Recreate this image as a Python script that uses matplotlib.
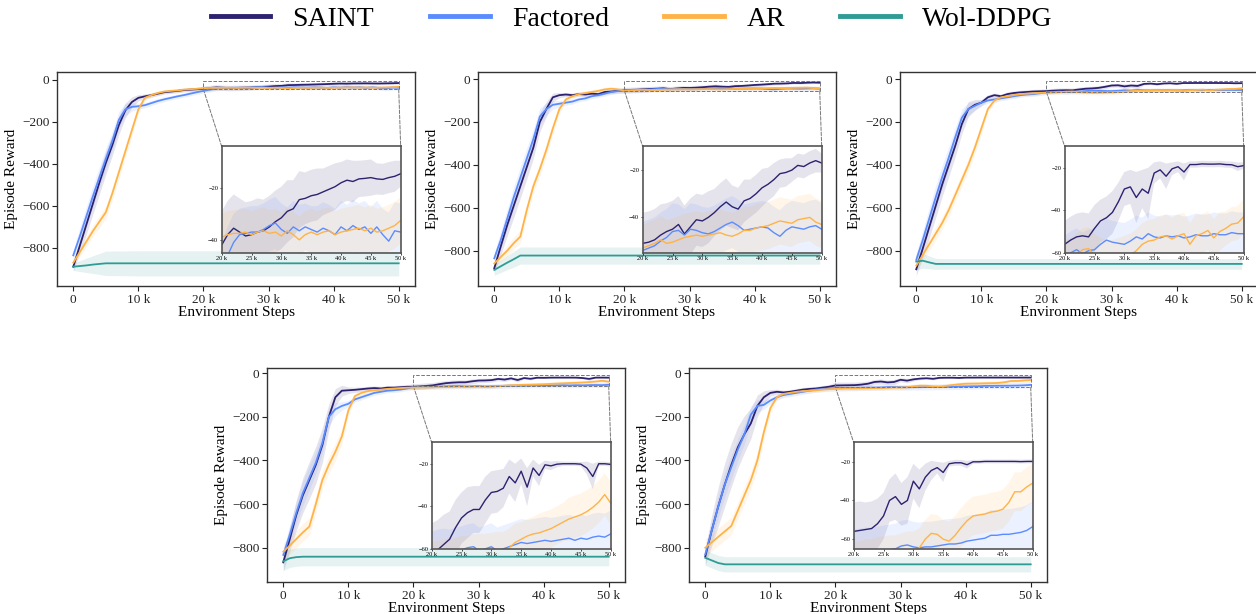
import numpy as np
import matplotlib.pyplot as plt
from matplotlib.lines import Line2D
from matplotlib.patches import Rectangle, ConnectionPatch
from matplotlib.ticker import FuncFormatter

plt.rcParams['font.family'] = ['Liberation Serif', 'DejaVu Serif']
plt.rcParams['axes.unicode_minus'] = True

# x grid (thousands of environment steps)
steps_k = list(range(51))
wol_steps_k = [0, 1, 2, 3, 4, 5, 10, 20, 30, 40, 50]

methods = ['SAINT', 'Factored', 'AR', 'Wol-DDPG']
colors = ['#2d2270', '#5b8cff', '#ffb347', '#2e9c94']

# ---------------- panel 1 ----------------
saint_1 = [-889, -790, -690, -590, -490, -395, -310, -215, -145, -105, -85,
           -78, -72, -65, -58, -55, -52, -48, -46, -44,
           -42, -38, -35.5, -37, -38.5, -38, -37, -36.5, -35, -33, -31.5,
           -29, -28, -24.5, -24, -23, -22.5, -21.5, -20.5, -19.5, -18,
           -17, -17.5, -16.5, -16.3, -16, -16.5, -16.7, -16, -15.5, -14.5]
saint_1_std = [20, 35, 45, 50, 55, 55, 50, 45, 35, 25, 15,
               12, 10, 10, 9, 9, 9, 9, 9, 9,
               13, 13, 13, 13, 13, 13, 13, 12, 12, 12, 12,
               12, 11, 11, 10, 10, 10, 9, 9, 9, 8,
               8, 8, 7, 7, 7, 6, 6, 6, 6, 5]
factored_1 = [-835, -745, -650, -555, -465, -375, -290, -190, -140, -128, -125,
              -120, -110, -100, -92, -85, -78, -72, -65, -58,
              -52, -46, -41, -38, -37.5, -37, -37, -36, -34.5, -33.5, -36,
              -37.5, -35, -36.5, -35, -36, -37, -35.5, -36.5, -38, -35,
              -36.5, -34.5, -36, -35, -37.5, -35, -38, -40.5, -36.5, -37]
factored_1_std = [25, 40, 45, 50, 50, 50, 45, 40, 30, 20, 15,
                  12, 12, 11, 11, 10, 10, 10, 10, 10,
                  11, 11, 11, 10, 10, 10, 10, 10, 10, 10, 10,
                  10, 10, 10, 9, 9, 10, 10, 10, 10, 10,
                  10, 10, 10, 10, 10, 10, 10, 11, 11, 11]
ar_1 = [-870, -820, -770, -720, -675, -630, -540, -440, -340, -240, -140,
        -85, -72, -62, -55, -52, -50, -46, -44, -42,
        -39, -38, -37.5, -37.5, -37, -38, -37, -36.5, -37.5, -37, -38.5,
        -36.5, -38, -40, -38, -37, -38, -37, -36.5, -38, -37,
        -36.5, -36, -35.5, -36.5, -35.5, -37, -36.5, -35.5, -34.5, -32.5]
ar_1_std = [15, 20, 25, 25, 30, 30, 30, 30, 30, 25, 20,
            12, 10, 10, 10, 9, 9, 9, 9, 9,
            9, 9, 9, 9, 9, 9, 9, 9, 9, 9, 9,
            9, 9, 9, 9, 9, 9, 9, 9, 9, 9,
            9, 9, 9, 9, 9, 9, 9, 9, 9, 9]
wol_1 = [-889, -886, -883, -879, -876, -873, -873, -873, -873, -873, -873]
wol_1_std = [18, 26, 34, 42, 50, 58, 60, 60, 60, 60, 60]

# ---------------- panel 2 ----------------
saint_2 = [-882, -780, -680, -590, -500, -410, -320, -200, -140, -85, -75,
           -72, -75, -70, -72, -68, -70, -60, -58, -55,
           -51, -50.5, -49.5, -47.5, -46, -45, -43, -47, -44, -41, -41.5,
           -40, -38, -35.5, -33.5, -35.5, -36.5, -33, -32, -30, -27.5,
           -26, -24, -21.5, -21, -20, -18, -18.5, -17, -16, -17]
saint_2_std = [20, 40, 50, 55, 55, 55, 50, 45, 35, 20, 12,
               10, 10, 10, 10, 10, 10, 10, 10, 10,
               13, 13, 13, 13, 12, 12, 12, 12, 12, 11, 11,
               11, 10, 10, 10, 9, 9, 9, 8, 8, 8,
               7, 7, 6, 6, 5, 5, 5, 5, 5, 4]
factored_2 = [-836, -750, -650, -550, -460, -370, -280, -175, -140, -120, -115,
              -110, -105, -95, -90, -80, -75, -68, -60, -56,
              -54, -53, -52, -50, -48.5, -46, -45.5, -47.5, -45, -45.5, -46.5,
              -47, -46, -44.5, -43, -42, -43.5, -45.5, -45, -44.5, -44,
              -44.5, -46.5, -48, -45.5, -44, -44.5, -45, -44, -43.5, -45]
factored_2_std = [25, 40, 45, 50, 50, 50, 45, 40, 30, 20, 15,
                  12, 12, 11, 11, 11, 11, 11, 11, 11,
                  12, 12, 12, 12, 12, 12, 11, 11, 11, 11, 11,
                  11, 11, 11, 11, 11, 11, 11, 11, 11, 11,
                  11, 11, 11, 11, 11, 11, 11, 11, 11, 11]
ar_2 = [-860, -830, -800, -765, -735, -610, -500, -420, -330, -230, -140,
        -95, -80, -70, -65, -60, -55, -48, -45, -48,
        -53, -52, -51, -49.5, -51, -50.5, -49.5, -48.5, -48, -47.5, -48,
        -47.5, -47, -46.5, -47.5, -48, -47, -45.5, -45.5, -44.5, -44,
        -43.5, -42.5, -41.5, -42, -42.5, -41, -40.5, -40, -42, -43]
ar_2_std = [15, 20, 25, 28, 30, 30, 30, 30, 30, 25, 20,
            12, 10, 10, 10, 10, 10, 10, 10, 10,
            10, 10, 10, 10, 10, 10, 10, 10, 10, 10, 10,
            10, 10, 10, 10, 10, 10, 10, 10, 10, 10,
            10, 10, 10, 10, 10, 10, 10, 10, 10, 10]
wol_2 = [-890, -873, -856, -840, -823, -823, -823, -823, -823, -823, -823]
wol_2_std = [25, 29, 33, 37, 40, 40, 40, 40, 40, 40, 40]

# ---------------- panel 3 ----------------
saint_3 = [-887, -790, -690, -590, -490, -400, -310, -210, -140, -120, -110,
           -85, -75, -80, -70, -65, -62, -60, -58, -57,
           -56, -54, -52.5, -52, -52.5, -48.5, -45, -43.5, -41, -36, -30,
           -29, -34, -30, -32, -22.5, -21, -24, -20.5, -19.5, -22,
           -18.5, -18.5, -18.2, -18.3, -18.3, -18.2, -18.5, -18.6, -19.5, -19]
saint_3_std = [30, 40, 50, 55, 55, 55, 50, 45, 35, 25, 15,
               12, 10, 10, 10, 10, 10, 10, 10, 10,
               11, 11, 11, 11, 11, 11, 10, 10, 10, 9, 8,
               8, 12, 9, 12, 5, 4, 6, 3, 2.5, 4,
               1.5, 1.5, 1.5, 1.5, 1.5, 1.5, 1.5, 1.5, 2, 1.5]
factored_3 = [-843, -750, -650, -550, -455, -365, -270, -180, -140, -125, -110,
              -100, -95, -90, -85, -80, -75, -72, -70, -66,
              -62, -60, -58.5, -60.5, -59, -58.5, -56, -54, -55, -55.5, -56,
              -54.5, -52.5, -53.5, -51, -52.5, -53, -52, -52.5, -52, -53,
              -52.5, -51.5, -52, -52, -51, -51.5, -51.5, -50.5, -51, -51]
factored_3_std = [30, 45, 50, 55, 55, 50, 45, 40, 30, 20, 15,
                  12, 12, 11, 11, 10, 10, 10, 10, 10,
                  10, 10, 10, 10, 10, 10, 10, 10, 10, 10, 10,
                  10, 10, 10, 10, 10, 10, 10, 10, 10, 10,
                  10, 10, 10, 10, 10, 10, 10, 10, 10, 10]
ar_3 = [-870, -820, -770, -720, -670, -610, -540, -470, -400, -320, -230,
        -140, -100, -85, -80, -75, -70, -68, -66, -64,
        -64, -63, -61, -58.5, -58, -61, -63, -64, -64, -63, -62,
        -61, -59, -56, -54.5, -54, -52.5, -52, -53.5, -52, -51,
        -56, -52, -51, -49.5, -53, -50, -48.5, -46.5, -46, -43]
ar_3_std = [20, 25, 30, 30, 30, 30, 30, 30, 30, 30, 25,
            15, 12, 10, 10, 10, 10, 10, 10, 10,
            10, 10, 10, 10, 10, 10, 10, 10, 10, 10, 10,
            10, 10, 10, 10, 10, 10, 10, 10, 10, 10,
            10, 10, 9, 9, 9, 9, 8, 8, 8, 8]
wol_3 = [-851, -847, -855, -862, -862, -862, -862, -862, -862, -862, -862]
wol_3_std = [40, 35, 30, 26, 25, 25, 25, 25, 25, 25, 25]

# ---------------- panel 4 ----------------
saint_4 = [-867, -760, -650, -560, -490, -420, -330, -200, -110, -80, -78,
           -76, -73, -70, -68, -70, -66, -66, -64, -62,
           -62, -60.5, -58, -55.5, -50, -45.5, -43, -41.5, -41.5, -37, -33.5,
           -33, -31.5, -26, -29, -23.5, -31, -22, -25.5, -20.5, -21,
           -20.2, -20, -20, -20, -20.2, -22, -26, -20, -20, -20.3]
saint_4_std = [40, 55, 70, 80, 85, 85, 80, 60, 40, 25, 15,
               12, 10, 10, 10, 10, 10, 10, 10, 10,
               14, 14, 14, 13, 13, 12, 12, 11, 11, 11, 10,
               10, 9, 8, 9, 6, 9, 4, 5, 2, 2,
               1.5, 1, 1, 1, 1, 3, 6, 1, 1, 1]
factored_4 = [-833, -740, -640, -550, -480, -410, -320, -200, -165, -150, -140,
              -120, -110, -100, -90, -85, -80, -78, -75, -70,
              -63, -62, -61.5, -62, -61, -60.5, -59.5, -59, -61, -60, -59,
              -61, -60, -59, -58, -57, -57.5, -57, -56.5, -56, -56.5,
              -56, -55.5, -55, -56, -55, -55.5, -54.5, -54, -54.5, -53]
factored_4_std = [30, 45, 50, 55, 55, 50, 45, 40, 30, 20, 15,
                  12, 12, 11, 11, 10, 10, 10, 10, 10,
                  11, 11, 11, 11, 11, 11, 11, 11, 11, 11, 11,
                  11, 11, 11, 11, 11, 11, 11, 11, 11, 11,
                  11, 11, 11, 11, 11, 11, 11, 11, 11, 11]
ar_4 = [-818, -790, -760, -730, -703, -600, -490, -420, -360, -290, -170,
        -105, -90, -82, -78, -75, -72, -70, -68, -66,
        -66, -65, -65, -64, -64, -63, -63, -62, -62, -62, -61.5,
        -61, -61, -59.5, -57, -55.5, -54, -53, -52.5, -51.5, -50.5,
        -49, -47.5, -46, -45, -44, -42.5, -40.5, -38, -34.5, -38.5]
ar_4_std = [40, 40, 40, 40, 40, 40, 40, 40, 40, 35, 25,
            15, 12, 10, 10, 10, 10, 10, 10, 10,
            9, 9, 9, 9, 9, 9, 9, 9, 9, 9, 9,
            9, 9, 9, 9, 8, 8, 8, 9, 9, 9,
            9, 9, 10, 10, 10, 10, 10, 10, 10, 10]
wol_4 = [-862, -848, -843, -841, -841, -841, -841, -841, -841, -841, -841]
wol_4_std = [42, 42, 42, 42, 42, 42, 42, 42, 42, 42, 42]

# ---------------- panel 5 ----------------
saint_5 = [-840, -720, -610, -510, -420, -340, -280, -230, -150, -110, -90,
           -85, -88, -85, -80, -75, -72, -70, -66, -62,
           -56, -55.5, -55, -54.5, -52, -48, -40, -38, -42, -40, -30,
           -34, -28, -24.5, -23, -25.5, -21, -20.5, -20.5, -21.5, -20,
           -20, -19.8, -19.8, -19.8, -19.8, -19.8, -19.8, -19.9, -19.8, -19.8]
saint_5_std = [40, 70, 90, 100, 100, 95, 85, 70, 50, 30, 15,
               12, 10, 10, 10, 10, 10, 10, 10, 10,
               15, 15, 14, 14, 13, 12, 11, 12, 11, 12, 9,
               10, 7, 5, 3, 5, 1.5, 1.5, 1.5, 2, 1,
               1, 1, 1, 1, 1, 1, 1, 1, 1, 1]
factored_5 = [-830, -720, -610, -510, -430, -350, -280, -190, -150, -145, -125,
              -110, -100, -95, -90, -85, -80, -75, -72, -70,
              -68, -67.5, -67, -67, -66.5, -66, -65.5, -65, -63.5, -63, -64,
              -64.5, -64, -64, -63.5, -63, -62.5, -62.5, -62, -61, -60.5,
              -60, -59.5, -58, -58, -57.5, -57.5, -57, -56.5, -55.5, -53.5]
factored_5_std = [30, 45, 50, 55, 55, 50, 45, 40, 30, 20, 15,
                  12, 12, 12, 12, 12, 12, 12, 12, 12,
                  13, 13, 13, 13, 13, 13, 13, 13, 13, 13, 13,
                  13, 13, 13, 13, 13, 13, 13, 13, 13, 13,
                  13, 13, 13, 13, 13, 13, 13, 13, 13, 13]
ar_5 = [-800, -775, -750, -725, -700, -630, -560, -490, -400, -270, -160,
        -110, -95, -90, -85, -82, -80, -78, -75, -73,
        -72, -71, -70, -70, -69, -68.5, -68, -68, -67, -66, -66,
        -64.5, -60, -57, -57.5, -60, -61, -58, -54, -50.5, -48,
        -47.5, -47, -46, -45.5, -44.5, -41, -35.5, -35.5, -33, -31]
ar_5_std = [40, 40, 40, 40, 40, 40, 40, 40, 40, 35, 25,
            15, 12, 10, 10, 10, 10, 10, 10, 10,
            10, 10, 10, 10, 10, 10, 10, 10, 10, 10, 10,
            10, 10, 10, 10, 10, 10, 10, 10, 10, 10,
            10, 10, 10, 10, 10, 10, 10, 10, 10, 10]
wol_5 = [-846, -858, -870, -876, -876, -876, -876, -876, -876, -876, -876]
wol_5_std = [35, 35, 35, 35, 35, 35, 35, 35, 35, 35, 35]

panels = [
    [(saint_1, saint_1_std), (factored_1, factored_1_std), (ar_1, ar_1_std), (wol_1, wol_1_std)],
    [(saint_2, saint_2_std), (factored_2, factored_2_std), (ar_2, ar_2_std), (wol_2, wol_2_std)],
    [(saint_3, saint_3_std), (factored_3, factored_3_std), (ar_3, ar_3_std), (wol_3, wol_3_std)],
    [(saint_4, saint_4_std), (factored_4, factored_4_std), (ar_4, ar_4_std), (wol_4, wol_4_std)],
    [(saint_5, saint_5_std), (factored_5, factored_5_std), (ar_5, ar_5_std), (wol_5, wol_5_std)],
]

# layout (figure pixels -> fractions)
W, H = 1256, 614
ax_w, ax_h = 358 / W, 214 / H
positions = [(57, 286), (478, 286), (900, 286), (267, 582), (689, 582)]
main_ylims = [(-981, 38), (-965, 33), (-965, 33), (-957, 24), (-957, 24)]
inset_ylims = [(-45, -4), (-55, -10), (-60, -10), (-60, -10), (-65, -10)]
inset_yticks = [[-20, -40], [-20, -40], [-20, -40, -60], [-20, -40, -60], [-20, -40, -60]]

x = np.array(steps_k) * 1000
xw = np.array(wol_steps_k) * 1000

fig = plt.figure(figsize=(W / 100, H / 100), dpi=100)

kfmt = FuncFormatter(lambda v, p: '0' if v == 0 else f'{int(round(v / 1000))} k')

for i, series in enumerate(panels):
    left, bottom = positions[i]
    ax = fig.add_axes([left / W, (H - bottom) / H, ax_w, ax_h])
    axins = ax.inset_axes([0.46, 0.155, 0.5, 0.497])

    for j, (mean, std) in enumerate(series):
        m = np.array(mean, dtype=float)
        s = np.array(std, dtype=float)
        xs = xw if j == 3 else x
        ax.fill_between(xs, m - s, m + s, color=colors[j], alpha=0.12, lw=0)
        ax.plot(xs, m, color=colors[j], lw=1.3)
        if j < 3:
            axins.fill_between(xs, m - s, m + s, color=colors[j], alpha=0.12, lw=0)
            axins.plot(xs, m, color=colors[j], lw=1.0)

    ax.set_xlim(-2500, 52500)
    ax.set_ylim(*main_ylims[i])
    ax.set_xticks([0, 10000, 20000, 30000, 40000, 50000])
    ax.xaxis.set_major_formatter(kfmt)
    ax.set_yticks([0, -200, -400, -600, -800])
    ax.tick_params(labelsize=9.5, length=3.5, width=0.8, pad=2, colors='#222')
    for sp in ax.spines.values():
        sp.set_color('#333')
        sp.set_linewidth(1.0)
    ax.set_xlabel('Environment Steps', fontsize=11, labelpad=0)
    ax.set_ylabel('Episode Reward', fontsize=11, labelpad=3)

    ylo, yhi = inset_ylims[i]
    axins.set_xlim(20000, 50000)
    axins.set_ylim(ylo, yhi)
    axins.set_xticks([20000, 25000, 30000, 35000, 40000, 45000, 50000])
    axins.xaxis.set_major_formatter(kfmt)
    axins.set_yticks(inset_yticks[i])
    axins.tick_params(labelsize=4.6, length=1.5, width=0.5, pad=1)
    axins.set_facecolor('white')
    for sp in axins.spines.values():
        sp.set_color('#555')
        sp.set_linewidth(1.2)

    ax.add_patch(Rectangle((20000, ylo), 30000, yhi - ylo, fill=False,
                           ls='--', ec='#777', lw=0.7, zorder=5))
    for xa, xb in [(20000, 0), (50000, 1)]:
        con = ConnectionPatch(xyA=(xa, ylo), coordsA=ax.transData,
                              xyB=(xb, 1), coordsB=axins.transAxes,
                              ls='--', color='#777', lw=0.7)
        ax.add_artist(con)

handles = [Line2D([0], [0], color=c, lw=3.5) for c in colors]
fig.legend(handles, methods, loc='upper center', bbox_to_anchor=(0.503, 1.03),
           ncol=4, frameon=False, fontsize=20, handlelength=2.15,
           handletextpad=0.8, columnspacing=2.0)

fig.savefig('out.png', dpi=100)
